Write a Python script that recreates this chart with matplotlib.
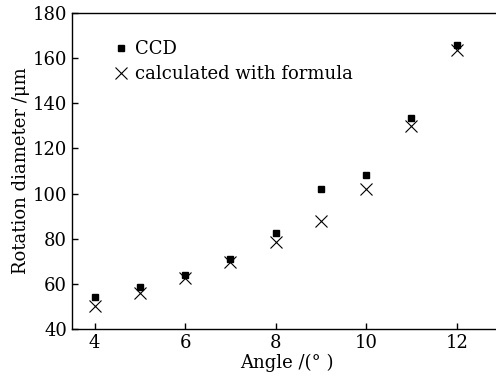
import matplotlib.pyplot as plt
import numpy as np

plt.rcParams['font.family'] = ['DejaVu Serif']
plt.rcParams['mathtext.fontset'] = 'dejavuserif'

#----------Data-------------
angle = [4, 5, 6, 7, 8, 9, 10, 11, 12]
ccd = [54, 58.7, 63.9, 70.9, 82.4, 102, 108.2, 133.6, 166]
formula = [50, 55.8, 62.7, 69.8, 78.7, 88, 102, 130, 163.6]

fig = plt.figure(figsize=(4.96, 3.78), dpi=100)
ax = fig.add_axes([72/496, 49/378, 430/496, 316/378])

ax.plot(angle, ccd, 's', color='black', ms=5, label='CCD')
ax.plot(angle, formula, 'x', color='black', ms=9, mew=0.8,
        label='calculated with formula')

ax.set_xlim(3.5, 13.0)
ax.set_ylim(40, 180)
ax.set_xticks([4, 6, 8, 10, 12])
ax.set_yticks(np.arange(40, 181, 20))
ax.tick_params(direction='in', labelsize=13, length=4, width=1)
ax.spines['right'].set_visible(False)
for s in ['left', 'bottom', 'top']:
    ax.spines[s].set_linewidth(1)

ax.set_xlabel('Angle /(° )', fontsize=13, labelpad=1)
ax.set_ylabel('Rotation diameter /μm', fontsize=13, labelpad=2)

ax.legend(loc='upper left', frameon=False, fontsize=13, handletextpad=0.25,
          handlelength=1.0, borderaxespad=0.4, labelspacing=0.4,
          bbox_to_anchor=(0.06, 0.96))

plt.savefig('out.png', dpi=100)
